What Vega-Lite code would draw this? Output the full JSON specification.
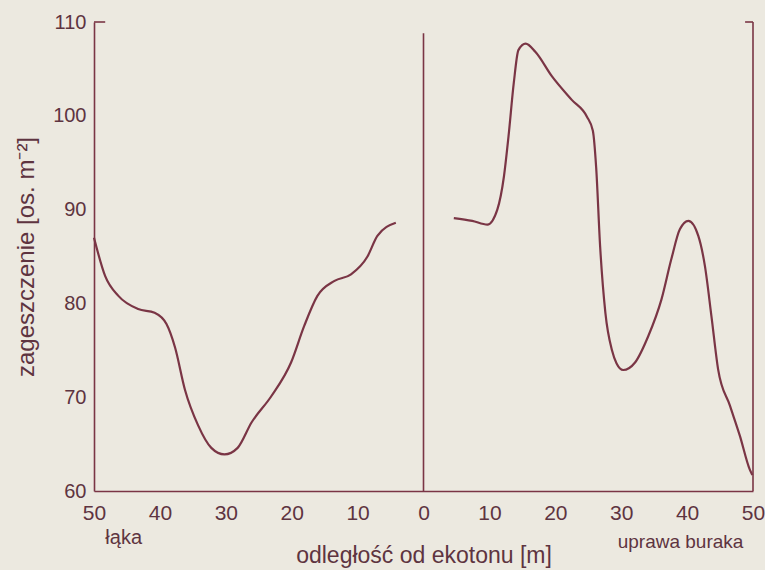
{
  "$schema": "https://vega.github.io/schema/vega-lite/v6.json",
  "width": 659,
  "height": 469,
  "autosize": "none",
  "padding": {"left": 94, "top": 22, "right": 12, "bottom": 79},
  "background": "#ece9e0",
  "config": {
    "view": {"stroke": null},
    "font": "Liberation Sans",
    "axis": {
      "domainColor": "#7a3545",
      "domainWidth": 1.6,
      "labelColor": "#5e3440",
      "titleColor": "#5e3440",
      "labelFont": "Liberation Sans",
      "titleFont": "Liberation Sans",
      "titleFontWeight": "normal",
      "grid": false,
      "ticks": false,
      "labelFlush": false,
      "labelOverlap": false
    }
  },
  "datasets": {
    "curves": [
      {"side": "łąka", "x": -50, "y": 87.0},
      {"side": "łąka", "x": -48.3, "y": 82.9},
      {"side": "łąka", "x": -46.3, "y": 80.8},
      {"side": "łąka", "x": -43.3, "y": 79.4},
      {"side": "łąka", "x": -40.8, "y": 79.0},
      {"side": "łąka", "x": -39.0, "y": 77.8},
      {"side": "łąka", "x": -37.7, "y": 75.3},
      {"side": "łąka", "x": -36.2, "y": 70.8},
      {"side": "łąka", "x": -34.2, "y": 67.0},
      {"side": "łąka", "x": -32.2, "y": 64.6},
      {"side": "łąka", "x": -30.2, "y": 63.9},
      {"side": "łąka", "x": -28.2, "y": 64.6},
      {"side": "łąka", "x": -26.1, "y": 67.3},
      {"side": "łąka", "x": -23.1, "y": 70.1},
      {"side": "łąka", "x": -20.1, "y": 73.7},
      {"side": "łąka", "x": -18.1, "y": 77.6},
      {"side": "łąka", "x": -16.1, "y": 80.8},
      {"side": "łąka", "x": -13.5, "y": 82.4},
      {"side": "łąka", "x": -11.0, "y": 83.1},
      {"side": "łąka", "x": -8.5, "y": 85.0},
      {"side": "łąka", "x": -7.0, "y": 87.2},
      {"side": "łąka", "x": -4.2, "y": 88.6},
      {"side": "uprawa buraka", "x": 4.6, "y": 89.1},
      {"side": "uprawa buraka", "x": 7.4, "y": 88.8},
      {"side": "uprawa buraka", "x": 9.7, "y": 88.4},
      {"side": "uprawa buraka", "x": 11.2, "y": 90.0},
      {"side": "uprawa buraka", "x": 12.2, "y": 93.5},
      {"side": "uprawa buraka", "x": 12.9, "y": 97.8},
      {"side": "uprawa buraka", "x": 13.7, "y": 103.5},
      {"side": "uprawa buraka", "x": 14.4, "y": 107.0},
      {"side": "uprawa buraka", "x": 15.5, "y": 107.7},
      {"side": "uprawa buraka", "x": 17.0, "y": 106.8},
      {"side": "uprawa buraka", "x": 19.5, "y": 104.2},
      {"side": "uprawa buraka", "x": 22.5, "y": 101.7},
      {"side": "uprawa buraka", "x": 24.8, "y": 99.9},
      {"side": "uprawa buraka", "x": 25.7, "y": 98.4},
      {"side": "uprawa buraka", "x": 26.2, "y": 94.5},
      {"side": "uprawa buraka", "x": 26.8, "y": 86.1},
      {"side": "uprawa buraka", "x": 27.6, "y": 79.0},
      {"side": "uprawa buraka", "x": 28.6, "y": 75.0},
      {"side": "uprawa buraka", "x": 29.3, "y": 73.6},
      {"side": "uprawa buraka", "x": 30.3, "y": 72.9},
      {"side": "uprawa buraka", "x": 32.1, "y": 73.7},
      {"side": "uprawa buraka", "x": 34.1, "y": 76.5},
      {"side": "uprawa buraka", "x": 36.1, "y": 80.4},
      {"side": "uprawa buraka", "x": 37.6, "y": 84.7},
      {"side": "uprawa buraka", "x": 38.9, "y": 87.9},
      {"side": "uprawa buraka", "x": 40.2, "y": 88.8},
      {"side": "uprawa buraka", "x": 41.7, "y": 87.2},
      {"side": "uprawa buraka", "x": 42.7, "y": 84.0},
      {"side": "uprawa buraka", "x": 43.7, "y": 78.6},
      {"side": "uprawa buraka", "x": 44.7, "y": 73.0},
      {"side": "uprawa buraka", "x": 46.5, "y": 69.1},
      {"side": "uprawa buraka", "x": 48.0, "y": 65.9},
      {"side": "uprawa buraka", "x": 49.5, "y": 62.3},
      {"side": "uprawa buraka", "x": 49.9, "y": 61.7}
    ],
    "vrules": [
      {"x": 0, "y": 60, "y2": 108.8},
      {"x": 50, "y": 60, "y2": 110}
    ],
    "hrules": [
      {"x": -50, "x2": -48.3, "y": 110},
      {"x": 48.8, "x2": 50, "y": 110}
    ],
    "labels": [
      {"label": "łąka", "x": -45.5, "y": 55.0, "size": 20},
      {"label": "uprawa buraka", "x": 39.0, "y": 54.6, "size": 19}
    ]
  },
  "layer": [
    {
      "data": {"name": "curves"},
      "mark": {"type": "line", "interpolate": "monotone", "color": "#7a3545", "strokeWidth": 2.2},
      "encoding": {
        "x": {
          "field": "x", "type": "quantitative",
          "scale": {"domain": [-50, 50], "nice": false, "zero": false},
          "axis": {
            "values": [-50, -40, -30, -20, -10, 0, 10, 20, 30, 40, 50],
            "labelExpr": "abs(datum.value)",
            "labelFontSize": 21,
            "labelPadding": 11,
            "title": "odległość od ekotonu [m]",
            "titleFontSize": 23,
            "titlePadding": 21
          }
        },
        "y": {
          "field": "y", "type": "quantitative",
          "scale": {"domain": [60, 110], "nice": false, "zero": false},
          "axis": {
            "values": [60, 70, 80, 90, 100, 110],
            "labelFontSize": 20,
            "labelPadding": 8,
            "title": "zageszczenie [os. m⁻²]",
            "titleFontSize": 24,
            "titlePadding": 14
          }
        },
        "detail": {"field": "side"}
      }
    },
    {
      "data": {"name": "vrules"},
      "mark": {"type": "rule", "color": "#7a3545", "strokeWidth": 1.6},
      "encoding": {
        "x": {"field": "x", "type": "quantitative"},
        "y": {"field": "y", "type": "quantitative"},
        "y2": {"field": "y2"}
      }
    },
    {
      "data": {"name": "hrules"},
      "mark": {"type": "rule", "color": "#7a3545", "strokeWidth": 1.6},
      "encoding": {
        "x": {"field": "x", "type": "quantitative"},
        "x2": {"field": "x2"},
        "y": {"field": "y", "type": "quantitative"}
      }
    },
    {
      "data": {"name": "labels"},
      "mark": {"type": "text", "color": "#5e3440", "font": "Liberation Sans", "baseline": "middle", "align": "center"},
      "encoding": {
        "x": {"field": "x", "type": "quantitative"},
        "y": {"field": "y", "type": "quantitative"},
        "text": {"field": "label"},
        "size": {"field": "size", "type": "quantitative", "scale": null}
      }
    }
  ]
}
